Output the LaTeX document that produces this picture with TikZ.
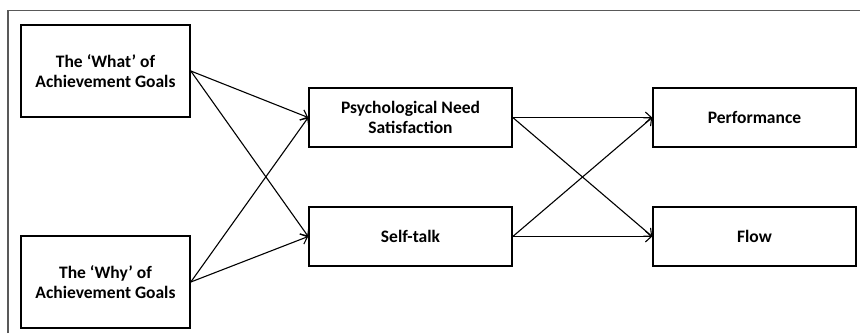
\documentclass[tikz,border=0pt]{standalone}
\usepackage{fontspec}
\setmainfont{Carlito}
\usetikzlibrary{arrows.meta}
\newlength{\goalwidth}
\setlength{\goalwidth}{169pt}
\newlength{\varwidth}
\setlength{\varwidth}{203pt}
\newcommand{\whattext}{The ‘What’ of\\ Achievement Goals}
\newcommand{\whytext}{The ‘Why’ of\\ Achievement Goals}
\newcommand{\needtext}{Psychological Need\\ Satisfaction}
\newcommand{\talktext}{Self-talk}
\newcommand{\perftext}{Performance}
\newcommand{\flowtext}{Flow}

\begin{document}
\begin{tikzpicture}[x=1pt, y=-1pt, >={Straight Barb[length=6pt,width=11pt]},
  goalbox/.style={draw, line width=1.6pt, minimum width=\goalwidth, minimum height=92pt, align=center, font=\bfseries\fontsize{17.5}{20.5}\selectfont},
  varbox/.style={draw, line width=1.6pt, minimum width=\varwidth, minimum height=59pt, align=center, font=\bfseries\fontsize{17.5}{20.5}\selectfont},
  link/.style={->, line width=1.1pt}]
  \useasboundingbox (0,0) rectangle (860,333);
  %outer frame, cut off at right and bottom
  \draw[line width=1.5pt, black!65] (8,333) -- (8,10.5) -- (860,10.5);

  %boxes
  \draw (105.5,71) node[goalbox] (A) {\whattext};
  \draw (105.5,282) node[goalbox] (B) {\whytext};
  \draw (410.5,117.5) node[varbox] (C) {\needtext};
  \draw (410.5,236.5) node[varbox] (D) {\talktext};
  \draw (754.5,117.5) node[varbox] (E) {\perftext};
  \draw (754.5,236.5) node[varbox] (F) {\flowtext};

  %straight arrows between boxes
  \path (A.east) edge[link] (C.west);
  \path (A.east) edge[link] (D.west);
  \path (B.east) edge[link] (C.west);
  \path (B.east) edge[link] (D.west);
  \path (C.east) edge[link] (E.west);
  \path (C.east) edge[link] (F.west);
  \path (D.east) edge[link] (E.west);
  \path (D.east) edge[link] (F.west);
\end{tikzpicture}
\end{document}
